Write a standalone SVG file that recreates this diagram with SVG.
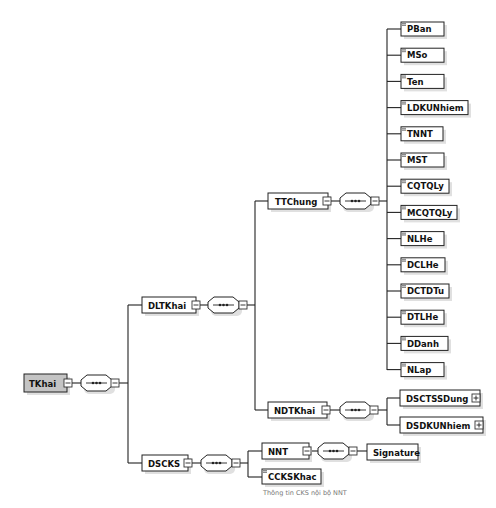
<svg xmlns="http://www.w3.org/2000/svg" width="496" height="508" viewBox="0 0 496 508">
<style>
.bg{fill:#fff}
.box{fill:#fff;stroke:#222;stroke-width:1}
.root{fill:#c4c4c4;stroke:#222;stroke-width:1}
.sh{fill:#e0e0e0}
.t{font-family:"DejaVu Sans",Verdana,sans-serif;font-weight:bold;font-size:8.5px;fill:#111}
.cap{font-family:"DejaVu Sans",sans-serif;font-size:6.5px;fill:#777777}
.ln{stroke:#222;stroke-width:1.1;fill:none}
.ic{fill:#fff;stroke:#333;stroke-width:0.9}
.comp{fill:#fff;stroke:#222;stroke-width:1}
.dot{fill:#222}
.lic{fill:#888}
</style>
<defs>
<g id="minus"><rect class="ic" x="0" y="0" width="8" height="8"/><line x1="1.5" y1="4" x2="6.5" y2="4" stroke="#222" stroke-width="0.9"/></g>
<g id="plus"><rect class="ic" x="0" y="0" width="8" height="8"/><line x1="1.5" y1="4" x2="6.5" y2="4" stroke="#222" stroke-width="0.9"/><line x1="4" y1="1.5" x2="4" y2="6.5" stroke="#222" stroke-width="0.9"/></g>
<g id="seq">
<rect class="sh" x="3" y="3" width="31" height="16" rx="5"/>
<path class="comp" d="M6,0 H25 L31,5 V11 L25,16 H6 L0,11 V5 Z"/>
<line x1="5" y1="8" x2="26" y2="8" stroke="#222" stroke-width="0.9"/>
<circle class="dot" cx="12" cy="8" r="1.3"/><circle class="dot" cx="15.5" cy="8" r="1.3"/><circle class="dot" cx="19" cy="8" r="1.3"/>
</g>
<g id="lic"><rect class="lic" x="0" y="0" width="4" height="3"/><line x1="0" y1="1.5" x2="4" y2="1.5" stroke="#fff" stroke-width="0.5"/></g>
</defs>
<rect class="bg" width="496" height="508"/>

<g id="connectors">
<line class="ln" x1="72" y1="383" x2="81" y2="383"/>
<line class="ln" x1="119" y1="383" x2="128" y2="383"/>
<line class="ln" x1="128" y1="305" x2="128" y2="463"/>
<line class="ln" x1="128" y1="305" x2="142" y2="305"/>
<line class="ln" x1="128" y1="463" x2="142" y2="463"/>
<line class="ln" x1="200" y1="305" x2="208" y2="305"/>
<line class="ln" x1="247" y1="305" x2="255" y2="305"/>
<line class="ln" x1="255" y1="201" x2="255" y2="410"/>
<line class="ln" x1="255" y1="201" x2="268" y2="201"/>
<line class="ln" x1="255" y1="410" x2="268" y2="410"/>
<line class="ln" x1="331" y1="201" x2="340" y2="201"/>
<line class="ln" x1="379" y1="201" x2="387" y2="201"/>
<line class="ln" x1="387" y1="29" x2="387" y2="370"/>
<line class="ln" x1="387" y1="29" x2="401" y2="29"/>
<line class="ln" x1="387" y1="55.2" x2="401" y2="55.2"/>
<line class="ln" x1="387" y1="81.4" x2="401" y2="81.4"/>
<line class="ln" x1="387" y1="107.6" x2="401" y2="107.6"/>
<line class="ln" x1="387" y1="133.8" x2="401" y2="133.8"/>
<line class="ln" x1="387" y1="160" x2="401" y2="160"/>
<line class="ln" x1="387" y1="186.2" x2="401" y2="186.2"/>
<line class="ln" x1="387" y1="212.4" x2="401" y2="212.4"/>
<line class="ln" x1="387" y1="238.6" x2="401" y2="238.6"/>
<line class="ln" x1="387" y1="264.8" x2="401" y2="264.8"/>
<line class="ln" x1="387" y1="291" x2="401" y2="291"/>
<line class="ln" x1="387" y1="317.2" x2="401" y2="317.2"/>
<line class="ln" x1="387" y1="343.4" x2="401" y2="343.4"/>
<line class="ln" x1="387" y1="369.6" x2="401" y2="369.6"/>
<line class="ln" x1="330" y1="410" x2="340" y2="410"/>
<line class="ln" x1="378" y1="410" x2="387" y2="410"/>
<line class="ln" x1="387" y1="398" x2="387" y2="425"/>
<line class="ln" x1="387" y1="398" x2="400" y2="398"/>
<line class="ln" x1="387" y1="425" x2="400" y2="425"/>
<line class="ln" x1="192" y1="463" x2="201" y2="463"/>
<line class="ln" x1="240" y1="463" x2="248" y2="463"/>
<line class="ln" x1="248" y1="451" x2="248" y2="477"/>
<line class="ln" x1="248" y1="451" x2="262" y2="451"/>
<line class="ln" x1="248" y1="477" x2="262" y2="477"/>
<line class="ln" x1="311" y1="451" x2="318" y2="451"/>
<line class="ln" x1="357" y1="451" x2="367" y2="451"/>
</g>

<g id="TKhai">
<rect class="sh" x="27" y="377" width="43" height="18"/>
<rect class="root" x="24" y="374" width="43" height="18"/>
<text class="t" x="29" y="387">TKhai</text>
<use href="#minus" x="64" y="379"/>
<use href="#seq" x="81" y="375"/>
<use href="#minus" x="111" y="379"/>
</g>

<g id="DLTKhai">
<rect class="sh" x="145" y="300" width="54" height="16"/>
<rect class="box" x="142" y="297" width="54" height="16"/>
<text class="t" x="148" y="308.5">DLTKhai</text>
<use href="#minus" x="192" y="301"/>
<use href="#seq" x="208" y="297"/>
<use href="#minus" x="239" y="301"/>
</g>

<g id="DSCKS">
<rect class="sh" x="145" y="458" width="46" height="16"/>
<rect class="box" x="142" y="455" width="46" height="16"/>
<text class="t" x="148" y="466.5">DSCKS</text>
<use href="#minus" x="184" y="459"/>
<use href="#seq" x="201" y="455"/>
<use href="#minus" x="232" y="459"/>
</g>

<g id="TTChung">
<rect class="sh" x="271" y="196" width="60" height="16"/>
<rect class="box" x="268" y="193" width="60" height="16"/>
<text class="t" x="275" y="204.5">TTChung</text>
<use href="#minus" x="323" y="197"/>
<use href="#seq" x="340" y="193"/>
<use href="#minus" x="371" y="197"/>
</g>

<g id="NDTKhai">
<rect class="sh" x="271" y="405" width="59" height="16"/>
<rect class="box" x="268" y="402" width="59" height="16"/>
<text class="t" x="274" y="413.5">NDTKhai</text>
<use href="#minus" x="322" y="406"/>
<use href="#seq" x="340" y="402"/>
<use href="#minus" x="370" y="406"/>
</g>

<g id="NNT">
<rect class="sh" x="265" y="446" width="47" height="16"/>
<rect class="box" x="262" y="443" width="47" height="16"/>
<text class="t" x="268" y="454.5">NNT</text>
<use href="#minus" x="303" y="447"/>
<use href="#seq" x="318" y="443"/>
<use href="#minus" x="349" y="447"/>
</g>

<g id="Signature">
<rect class="sh" x="370" y="447" width="51" height="16"/>
<rect class="box" x="367" y="444" width="51" height="16"/>
<text class="t" x="373" y="455.5">Signature</text>
</g>

<g id="CCKSKhac">
<rect class="sh" x="265" y="472" width="59" height="15"/>
<rect class="box" x="262" y="469" width="59" height="15"/>
<use href="#lic" x="263" y="470"/>
<text class="t" x="268" y="480">CCKSKhac</text>
<text class="cap" x="263" y="495">Thông tin CKS nội bộ NNT</text>
</g>

<g id="DSCTSSDung">
<rect class="sh" x="403" y="393" width="80" height="16"/>
<rect class="box" x="400" y="390" width="80" height="16"/>
<text class="t" x="406" y="401.5">DSCTSSDung</text>
<use href="#plus" x="472" y="394"/>
</g>

<g id="DSDKUNhiem">
<rect class="sh" x="403" y="420" width="83" height="16"/>
<rect class="box" x="400" y="417" width="83" height="16"/>
<text class="t" x="406" y="428.5">DSDKUNhiem</text>
<use href="#plus" x="475" y="421"/>
</g>

<g id="PBan"><rect class="sh" x="404" y="25" width="43" height="14"/><rect class="box" x="401" y="22" width="43" height="14"/><use href="#lic" x="402" y="23"/><text class="t" x="407" y="32.2">PBan</text></g>
<g id="MSo"><rect class="sh" x="404" y="51.2" width="43" height="14"/><rect class="box" x="401" y="48.2" width="43" height="14"/><use href="#lic" x="402" y="49.2"/><text class="t" x="407" y="58.4">MSo</text></g>
<g id="Ten"><rect class="sh" x="404" y="77.4" width="43" height="14"/><rect class="box" x="401" y="74.4" width="43" height="14"/><use href="#lic" x="402" y="75.4"/><text class="t" x="407" y="84.6">Ten</text></g>
<g id="LDKUNhiem"><rect class="sh" x="404" y="103.6" width="67" height="14"/><rect class="box" x="401" y="100.6" width="67" height="14"/><use href="#lic" x="402" y="101.6"/><text class="t" x="407" y="110.8">LDKUNhiem</text></g>
<g id="TNNT"><rect class="sh" x="404" y="129.8" width="42" height="14"/><rect class="box" x="401" y="126.8" width="42" height="14"/><use href="#lic" x="402" y="127.8"/><text class="t" x="407" y="137">TNNT</text></g>
<g id="MST"><rect class="sh" x="404" y="156" width="43" height="14"/><rect class="box" x="401" y="153" width="43" height="14"/><use href="#lic" x="402" y="154"/><text class="t" x="407" y="163.2">MST</text></g>
<g id="CQTQLy"><rect class="sh" x="404" y="182.2" width="48" height="14"/><rect class="box" x="401" y="179.2" width="48" height="14"/><use href="#lic" x="402" y="180.2"/><text class="t" x="407" y="189.4">CQTQLy</text></g>
<g id="MCQTQLy"><rect class="sh" x="404" y="208.4" width="56" height="14"/><rect class="box" x="401" y="205.4" width="56" height="14"/><use href="#lic" x="402" y="206.4"/><text class="t" x="407" y="215.6">MCQTQLy</text></g>
<g id="NLHe"><rect class="sh" x="404" y="234.6" width="43" height="14"/><rect class="box" x="401" y="231.6" width="43" height="14"/><use href="#lic" x="402" y="232.6"/><text class="t" x="407" y="241.8">NLHe</text></g>
<g id="DCLHe"><rect class="sh" x="404" y="260.8" width="44" height="14"/><rect class="box" x="401" y="257.8" width="44" height="14"/><use href="#lic" x="402" y="258.8"/><text class="t" x="407" y="268">DCLHe</text></g>
<g id="DCTDTu"><rect class="sh" x="404" y="287" width="48" height="14"/><rect class="box" x="401" y="284" width="48" height="14"/><use href="#lic" x="402" y="285"/><text class="t" x="407" y="294.2">DCTDTu</text></g>
<g id="DTLHe"><rect class="sh" x="404" y="313.2" width="43" height="14"/><rect class="box" x="401" y="310.2" width="43" height="14"/><use href="#lic" x="402" y="311.2"/><text class="t" x="407" y="320.4">DTLHe</text></g>
<g id="DDanh"><rect class="sh" x="404" y="339.4" width="47" height="14"/><rect class="box" x="401" y="336.4" width="47" height="14"/><use href="#lic" x="402" y="337.4"/><text class="t" x="407" y="346.6">DDanh</text></g>
<g id="NLap"><rect class="sh" x="404" y="365.6" width="43" height="14"/><rect class="box" x="401" y="362.6" width="43" height="14"/><use href="#lic" x="402" y="363.6"/><text class="t" x="407" y="372.8">NLap</text></g>
</svg>
